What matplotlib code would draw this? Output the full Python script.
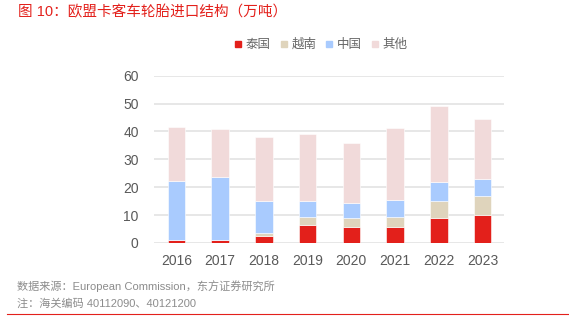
import numpy as np
import matplotlib.pyplot as plt
from matplotlib.lines import Line2D

plt.rcParams['font.family'] = ['Liberation Sans', 'Noto Sans CJK SC']

# 欧盟卡客车轮胎进口结构（万吨）
years = ["2016", "2017", "2018", "2019", "2020", "2021", "2022", "2023"]
thailand = [1.0, 1.1, 2.5, 6.4, 5.8, 5.8, 9.0, 9.9]
vietnam = [0.0, 0.0, 1.0, 2.8, 3.2, 3.5, 6.0, 7.1]
china = [21.3, 22.7, 11.5, 5.8, 5.3, 6.1, 6.9, 6.0]
others = [19.2, 17.0, 23.0, 24.1, 21.6, 25.8, 27.2, 21.4]

labels = ["泰国", "越南", "中国", "其他"]
colors = ["#E3201B", "#DFD4BC", "#A9CBFE", "#F1DADA"]

fig = plt.figure(figsize=(5.69, 3.23), dpi=100)
ax = fig.add_axes([154/569, 1 - 243/323, 350/569, (243 - 75.7)/323])

x = np.arange(len(years))
bottom = np.zeros(len(years))
for vals, c in zip([thailand, vietnam, china, others], colors):
    ax.bar(x, vals, 0.4, bottom=bottom, color=c, edgecolor="white",
           linewidth=0.4, zorder=3)
    bottom += np.array(vals)

ax.set_xlim(-0.51, 7.49)
ax.set_ylim(0, 60)
ax.set_yticks(range(0, 61, 10))
ax.set_xticks(x)
ax.set_xticklabels(years)
ax.grid(axis="y", color="#E3E3E3", linewidth=1.2, zorder=0)
for s in ax.spines.values():
    s.set_visible(False)
ax.tick_params(length=0, labelsize=10, colors="#595959", pad=8)
ax.tick_params(axis="y", pad=11)

handles = [Line2D([], [], marker="s", linestyle="", markersize=5,
                  markerfacecolor=c, markeredgecolor=c) for c in colors]
fig.legend(handles, labels, loc="center", bbox_to_anchor=(321/569, 1 - 45/323),
           ncol=4, frameon=False, fontsize=9, handlelength=0.6,
           handletextpad=0.3, columnspacing=0.75, labelcolor="#666666")

fig.text(18/569, 1 - 12/323, "图 10：欧盟卡客车轮胎进口结构（万吨）", color="#E3201B",
         fontsize=10.5, fontweight="medium", va="center", ha="left")
fig.text(17/569, 1 - 286/323, "数据来源：European Commission，东方证券研究所",
         color="#8C8C8C", fontsize=8, va="center", ha="left")
fig.text(17/569, 1 - 304/323, "注：海关编码 40112090、40121200",
         color="#8C8C8C", fontsize=8, va="center", ha="left")
fig.add_artist(Line2D([7/569, 1], [1 - 314/323] * 2, color="#E3201B", linewidth=0.8))

fig.savefig("out.png", dpi=100)
